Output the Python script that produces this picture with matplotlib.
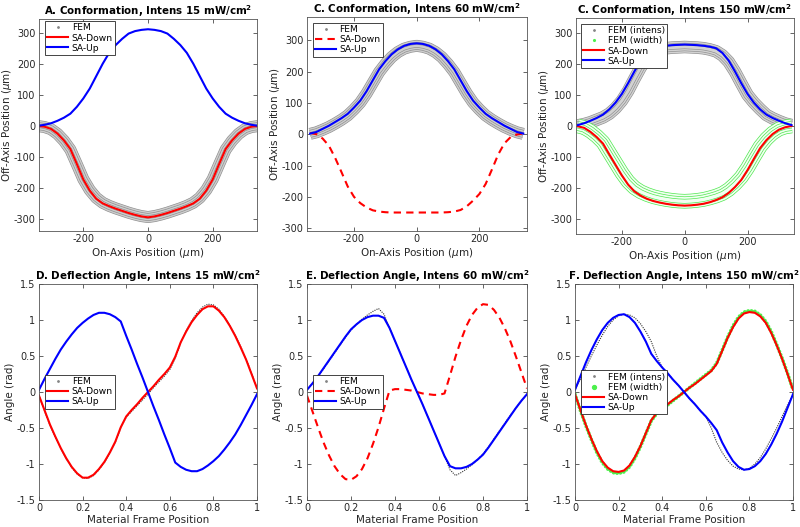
import matplotlib
matplotlib.use("Agg")
import matplotlib.pyplot as plt
from matplotlib.lines import Line2D
from matplotlib.ticker import FuncFormatter

plt.rcParams['font.family'] = ['DejaVu Sans']
plt.rcParams['axes.unicode_minus'] = False

# ---------------- top row: conformation (on-axis position, um) ----------------
x_top = [-340, -320, -300, -280, -260, -240, -220, -200, -180, -160, -140, -120, -100, -80, -60, -40, -20,
         0, 20, 40, 60, 80, 100, 120, 140, 160, 180, 200, 220, 240, 260, 280, 300, 320, 340]

up_a = [1, 4, 9, 17, 27, 40, 62, 89, 121, 161, 201, 236, 261, 281, 298, 306, 310,
        312, 310, 306, 298, 281, 261, 236, 201, 161, 121, 89, 62, 40, 27, 17, 9, 4, 1]
down_a = [0, -2, -9, -24, -46, -74, -122, -172, -208, -234, -249, -258, -266, -273, -280, -286, -291,
          -294, -291, -286, -280, -273, -266, -258, -249, -234, -208, -172, -122, -74, -46, -24, -9, -2, 0]
fem_a = [0, -3, -10, -25, -47, -76, -123, -171, -206, -231, -247, -257, -265, -272, -279, -285, -290,
         -293, -290, -285, -279, -272, -265, -257, -247, -231, -206, -171, -123, -76, -47, -25, -10, -3, 0]

up_b = [3, 8, 18, 28, 40, 52, 66, 86, 108, 138, 173, 208, 234, 256, 272, 283, 289,
        291, 289, 283, 272, 256, 234, 208, 173, 138, 108, 86, 66, 52, 40, 28, 18, 8, 3]
down_b = [5, 1, -13, -36, -75, -120, -166, -199, -219, -233, -242, -246, -248, -249, -249, -249, -249,
          -249, -249, -249, -249, -249, -248, -246, -241, -229, -211, -190, -158, -112, -64, -28, -8, 0, 3]
fem_b = [2, 7, 15, 24, 35, 47, 61, 80, 102, 131, 165, 199, 225, 247, 263, 274, 280,
         283, 280, 274, 263, 247, 225, 199, 165, 131, 102, 80, 61, 47, 35, 24, 15, 7, 2]

up_c = [3, 9, 17, 26, 37, 54, 76, 104, 139, 177, 212, 237, 252, 257, 260, 262, 263,
        264, 263, 262, 260, 257, 252, 237, 212, 177, 139, 104, 76, 54, 37, 26, 17, 9, 3]
down_c = [-1, -6, -19, -36, -57, -92, -126, -160, -190, -212, -226, -236, -243, -248, -252, -255, -257,
          -258, -257, -255, -252, -247, -240, -231, -217, -198, -175, -143, -107, -72, -46, -26, -12, -4, 0]
fem_c_intens = [2, 6, 12, 20, 28, 40, 58, 82, 114, 153, 190, 219, 237, 247, 252, 254, 255,
                256, 255, 254, 252, 248, 242, 229, 208, 176, 138, 101, 76, 55, 36, 25, 16, 8, 3]
fem_c_width = [0, -5, -17, -33, -53, -86, -119, -152, -180, -200, -213, -222, -229, -234, -238, -241, -243,
               -244, -243, -241, -238, -233, -227, -219, -206, -188, -166, -136, -101, -67, -42, -23, -10, -3, 0]

# ---------------- bottom row: deflection angle (rad) ----------------
x_bot = [0, 0.025, 0.05, 0.075, 0.1, 0.125, 0.15, 0.175, 0.2, 0.225, 0.25, 0.275, 0.3, 0.325, 0.35, 0.375,
         0.4, 0.425, 0.45, 0.475, 0.5, 0.525, 0.55, 0.575, 0.6, 0.625, 0.65, 0.675, 0.7, 0.725, 0.75,
         0.775, 0.8, 0.825, 0.85, 0.875, 0.9, 0.925, 0.95, 0.975, 1.0]

up_d = [0.03, 0.18, 0.32, 0.46, 0.59, 0.70, 0.80, 0.89, 0.96, 1.02, 1.07, 1.10, 1.10, 1.08, 1.04, 0.98,
        0.78, 0.59, 0.39, 0.20, 0.00, -0.20, -0.39, -0.59, -0.78, -0.98, -1.04, -1.08, -1.10, -1.10, -1.07,
        -1.02, -0.96, -0.89, -0.80, -0.70, -0.59, -0.46, -0.32, -0.18, -0.03]
down_d = [-0.05, -0.25, -0.45, -0.62, -0.78, -0.92, -1.04, -1.13, -1.19, -1.19, -1.15, -1.07, -0.97, -0.84,
          -0.69, -0.49, -0.34, -0.25, -0.17, -0.08, 0.00, 0.08, 0.17, 0.25, 0.34, 0.49, 0.69, 0.84, 0.97,
          1.07, 1.15, 1.19, 1.19, 1.13, 1.04, 0.92, 0.78, 0.62, 0.45, 0.25, 0.05]
fem_d = [-0.05, -0.26, -0.46, -0.63, -0.79, -0.93, -1.05, -1.14, -1.19, -1.20, -1.16, -1.08, -0.98, -0.85,
         -0.70, -0.50, -0.35, -0.27, -0.19, -0.11, -0.03, 0.06, 0.14, 0.22, 0.31, 0.47, 0.68, 0.85, 0.99,
         1.10, 1.18, 1.22, 1.21, 1.15, 1.05, 0.93, 0.79, 0.63, 0.46, 0.26, 0.05]

up_e = [0.03, 0.12, 0.22, 0.33, 0.44, 0.55, 0.66, 0.77, 0.87, 0.94, 1.00, 1.04, 1.06, 1.06, 1.03, 0.89,
        0.71, 0.53, 0.35, 0.17, 0.00, -0.17, -0.35, -0.53, -0.71, -0.89, -1.03, -1.06, -1.06, -1.04, -1.00,
        -0.94, -0.87, -0.77, -0.66, -0.55, -0.44, -0.33, -0.22, -0.12, -0.03]
down_e = [-0.05, -0.27, -0.49, -0.70, -0.88, -1.03, -1.14, -1.21, -1.22, -1.17, -1.07, -0.92, -0.72, -0.49,
          -0.23, 0.02, 0.04, 0.04, 0.03, 0.02, 0.00, -0.02, -0.03, -0.04, -0.04, -0.02, 0.23, 0.49, 0.72,
          0.92, 1.07, 1.17, 1.22, 1.21, 1.14, 1.03, 0.88, 0.70, 0.49, 0.27, 0.05]
fem_e = [0.03, 0.12, 0.22, 0.32, 0.43, 0.54, 0.65, 0.76, 0.86, 0.94, 1.01, 1.07, 1.12, 1.16, 1.08, 0.89,
         0.71, 0.53, 0.35, 0.17, 0.00, -0.17, -0.35, -0.53, -0.71, -0.89, -1.08, -1.16, -1.12, -1.07, -1.01,
         -0.94, -0.86, -0.76, -0.65, -0.54, -0.43, -0.32, -0.22, -0.12, -0.03]

up_f = [0.03, 0.22, 0.41, 0.58, 0.73, 0.86, 0.96, 1.03, 1.07, 1.08, 1.04, 0.96, 0.84, 0.70, 0.53, 0.43,
        0.34, 0.26, 0.17, 0.09, 0.00, -0.09, -0.17, -0.26, -0.34, -0.43, -0.53, -0.70, -0.84, -0.96, -1.04,
        -1.08, -1.07, -1.03, -0.96, -0.86, -0.73, -0.58, -0.41, -0.22, -0.03]
down_f = [-0.03, -0.25, -0.46, -0.65, -0.82, -0.96, -1.05, -1.10, -1.11, -1.09, -1.02, -0.90, -0.75, -0.57,
          -0.39, -0.29, -0.23, -0.17, -0.11, -0.06, 0.00, 0.06, 0.11, 0.17, 0.23, 0.29, 0.39, 0.57, 0.75,
          0.90, 1.02, 1.09, 1.11, 1.10, 1.05, 0.96, 0.82, 0.65, 0.46, 0.25, 0.03]
fem_f_intens = [0.03, 0.18, 0.34, 0.50, 0.65, 0.79, 0.91, 1.00, 1.06, 1.08, 1.07, 1.03, 0.95, 0.84, 0.70,
                0.50, 0.34, 0.26, 0.17, 0.09, 0.00, -0.09, -0.17, -0.26, -0.34, -0.50, -0.70, -0.84, -0.95,
                -1.03, -1.07, -1.08, -1.06, -1.00, -0.91, -0.79, -0.65, -0.50, -0.34, -0.18, -0.03]
fem_f_width = [-0.03, -0.26, -0.47, -0.66, -0.84, -0.98, -1.07, -1.12, -1.13, -1.11, -1.04, -0.92, -0.76,
               -0.58, -0.40, -0.30, -0.24, -0.18, -0.12, -0.06, 0.00, 0.06, 0.12, 0.18, 0.24, 0.30, 0.40,
               0.58, 0.76, 0.92, 1.04, 1.11, 1.13, 1.12, 1.07, 0.98, 0.84, 0.66, 0.47, 0.26, 0.03]

titles = [r"A. Conformation, Intens 15 mW/cm$^\mathbf{2}$",
          r"C. Conformation, Intens 60 mW/cm$^\mathbf{2}$",
          r"C. Conformation, Intens 150 mW/cm$^\mathbf{2}$",
          r"D. Deflection Angle, Intens 15 mW/cm$^\mathbf{2}$",
          r"E. Deflection Angle, Intens 60 mW/cm$^\mathbf{2}$",
          r"F. Deflection Angle, Intens 150 mW/cm$^\mathbf{2}$"]

DARK = '#262626'
GRAY = '#858585'
GREEN = '#4cf04c'
RED = '#ff0000'
BLUE = '#0000ff'

W, H = 800, 527
fig = plt.figure(figsize=(8, 5.27), dpi=100)


def px_axes(l, t, r, b):
    return fig.add_axes([l / W, 1 - b / H, (r - l) / W, (b - t) / H])


def style(ax, title):
    ax.set_title(title, fontsize=7.4, fontweight='bold', color='black', pad=3)
    ax.tick_params(direction='in', length=3, width=0.5, labelsize=7, colors=DARK,
                   top=True, right=True, pad=2.5)
    for s in ax.spines.values():
        s.set_color('#555555')
        s.set_linewidth(0.6)


def band(ax, x, y, line, fill, width, pitch, t):
    # FEM sheet drawn as a band of thin parallel lines around the mid-surface
    w = width
    while w > 0.2:
        ax.plot(x, y, color=line, lw=w, solid_capstyle='butt', solid_joinstyle='round')
        if w - 2 * t > 0.1:
            ax.plot(x, y, color=fill, lw=w - 2 * t, solid_capstyle='butt', solid_joinstyle='round')
        w -= 2 * pitch


def dots(ax, x, y, col, lw=1.0, gap=1.6):
    ax.plot(x, y, color=col, lw=lw, ls=(0, (0.05, gap)), dash_capstyle='round')


def leg(ax, handles, labels, anchor):
    lg = ax.legend(handles, labels, loc='upper left', bbox_to_anchor=anchor, fontsize=6.6,
                   frameon=True, fancybox=False, framealpha=1, edgecolor=DARK,
                   handlelength=2.3, handletextpad=0.35, borderpad=0.25, labelspacing=0.12,
                   borderaxespad=0)
    lg.get_frame().set_linewidth(0.6)


h_fem = Line2D([], [], ls='none', marker='.', ms=2, color=GRAY)
h_femw = Line2D([], [], ls='none', marker='.', ms=2.5, color=GREEN)
h_femw_big = Line2D([], [], ls='none', marker='o', ms=2.8, color=GREEN, mec=GREEN)
h_down = Line2D([], [], color=RED, lw=1.5)
h_down_dash = Line2D([], [], color=RED, lw=1.5, ls=(0, (3.5, 2.5)))
h_up = Line2D([], [], color=BLUE, lw=1.5)

top_ylabel = r"Off-Axis Position ($\mu$m)"
top_xlabel = r"On-Axis Position ($\mu$m)"


def top_axes(ax, title):
    ax.set_xticks([-200, 0, 200])
    ax.set_yticks([-300, -200, -100, 0, 100, 200, 300])
    style(ax, title)
    ax.set_xlabel(top_xlabel, fontsize=7.5, color=DARK, labelpad=1)
    ax.set_ylabel(top_ylabel, fontsize=7.5, color=DARK, labelpad=0)


# ---- A ----
ax = px_axes(39, 19, 257, 231)
band(ax, x_top, fem_a, '#8c8c8c', '#cdcdcd', 8.6, 1.5, 0.45)
ax.plot(x_top, down_a, color=RED, lw=1.5)
ax.plot(x_top, up_a, color=BLUE, lw=1.5)
ax.set_xlim(-337, 337)
ax.set_ylim(-338, 345)
top_axes(ax, titles[0])
leg(ax, [h_fem, h_down, h_up], ["FEM", "SA-Down", "SA-Up"], (0.028, 0.99))

# ---- B ----
ax = px_axes(307, 17, 527, 231)
band(ax, x_top, fem_b, '#8c8c8c', '#cdcdcd', 8.6, 1.5, 0.45)
ax.plot(x_top, down_b, color=RED, lw=1.5, ls=(0, (3.5, 2.5)))
ax.plot(x_top, up_b, color=BLUE, lw=1.5)
ax.set_xlim(-350, 352)
ax.set_ylim(-308, 375)
top_axes(ax, titles[1])
leg(ax, [h_fem, h_down_dash, h_up], ["FEM", "SA-Down", "SA-Up"], (0.027, 0.972))

# ---- C ----
ax = px_axes(576, 18, 794, 234)
band(ax, x_top, fem_c_intens, '#8c8c8c', '#d2d2d2', 9.0, 1.5, 0.45)
band(ax, x_top, fem_c_width, '#4ee84e', '#f2fff2', 10.5, 1.75, 0.5)
ax.plot(x_top, down_c, color=RED, lw=1.5)
ax.plot(x_top, up_c, color=BLUE, lw=1.5)
ax.set_xlim(-346, 348)
ax.set_ylim(-350, 350)
top_axes(ax, titles[2])
leg(ax, [h_fem, h_femw, h_down, h_up], ["FEM (intens)", "FEM (width)", "SA-Down", "SA-Up"],
    (0.023, 0.972))

# ---- bottom row ----
fmt = FuncFormatter(lambda v, p: f"{v:g}")


def bottom(ax, title):
    ax.set_xlim(0, 1)
    ax.set_ylim(-1.5, 1.5)
    ax.set_xticks([0, 0.2, 0.4, 0.6, 0.8, 1])
    ax.set_yticks([-1.5, -1, -0.5, 0, 0.5, 1, 1.5])
    ax.xaxis.set_major_formatter(fmt)
    ax.yaxis.set_major_formatter(fmt)
    style(ax, title)
    ax.set_xlabel("Material Frame Position", fontsize=7.5, color=DARK, labelpad=1)
    ax.set_ylabel("Angle (rad)", fontsize=7.5, color=DARK, labelpad=1)


# ---- D ----
ax = px_axes(39, 284, 257, 500)
dots(ax, x_bot, fem_d, '#444444')
ax.plot(x_bot, down_d, color=RED, lw=1.5)
ax.plot(x_bot, up_d, color=BLUE, lw=1.5)
bottom(ax, titles[3])
leg(ax, [h_fem, h_down, h_up], ["FEM", "SA-Down", "SA-Up"], (0.028, 0.58))

# ---- E ----
ax = px_axes(307, 284, 527, 500)
dots(ax, x_bot, fem_e, '#444444')
ax.plot(x_bot, down_e, color=RED, lw=1.5, ls=(0, (3.5, 2.5)))
ax.plot(x_bot, up_e, color=BLUE, lw=1.5)
bottom(ax, titles[4])
leg(ax, [h_fem, h_down_dash, h_up], ["FEM", "SA-Down", "SA-Up"], (0.027, 0.58))

# ---- F ----
ax = px_axes(575, 284, 793, 500)
dots(ax, x_bot, fem_f_width, GREEN, lw=2.6, gap=0.9)
dots(ax, x_bot, fem_f_intens, '#444444')
ax.plot(x_bot, down_f, color=RED, lw=1.5)
ax.plot(x_bot, up_f, color=BLUE, lw=1.5)
bottom(ax, titles[5])
leg(ax, [h_fem, h_femw_big, h_down, h_up], ["FEM (intens)", "FEM (width)", "SA-Down", "SA-Up"],
    (0.028, 0.60))

fig.savefig("out.png", dpi=100)
